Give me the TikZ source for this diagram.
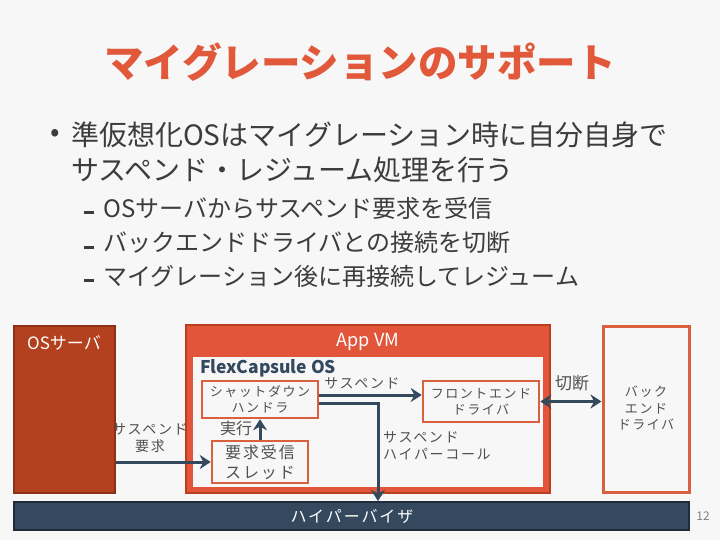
\documentclass[tikz,border=0pt]{standalone}
\usepackage{fontspec}
\setmainfont{Noto Sans CJK JP}
\newfontfamily\jpsp{Noto Sans CJK JP}[LetterSpace=12]
\usetikzlibrary{arrows.meta}
\definecolor{bg}{HTML}{F7F7F7}
\definecolor{ttl}{HTML}{E1583A}
\definecolor{txt}{HTML}{3C3C3C}
\definecolor{navy}{HTML}{34495E}
\definecolor{navyd}{HTML}{1F2D3B}
\definecolor{rust}{HTML}{B3411F}
\definecolor{rustd}{HTML}{8E3016}
\definecolor{vm}{HTML}{E2553A}
\definecolor{vmd}{HTML}{B8401F}
\definecolor{boxb}{HTML}{D9603F}
\definecolor{gtxt}{HTML}{505050}
\tikzset{
  fs/.style={font=\fontsize{#1}{\dimexpr #1pt*5/4\relax}\selectfont},
  inbox/.style={draw=boxb, line width=2.5pt, fill=bg, inner sep=0pt, align=center, text=gtxt},
  arr/.style={draw=navy, line width=3pt, -{Stealth[length=11pt,width=14pt]}},
  darr/.style={draw=navy, line width=3pt, {Stealth[length=11pt,width=14pt]}-{Stealth[length=11pt,width=14pt]}},
  lbl/.style={text=gtxt, inner sep=0pt, align=left},
  dashmark/.style={fill=txt, minimum width=10pt, minimum height=3pt, inner sep=0pt}
}
\begin{document}
\begin{tikzpicture}[x=1pt,y=-1pt]
\fill[bg] (0,0) rectangle (720,540);
\useasboundingbox (0,0) rectangle (720,540);

% title
\node[text=ttl, font=\fontsize{39.5}{46}\selectfont\bfseries] (title) at (360,62) {マイグレーションのサポート};

% bullets
\node[fs=28, text=txt] (b1) at (55,135) {•};
\node[fs=28, text=txt, anchor=west, inner sep=0pt] (t1) at (71,135) {準仮想化OSはマイグレーション時に自分自身で};
\node[fs=28, text=txt, anchor=west, inner sep=0pt] (t2) at (71,170) {サスペンド・レジューム処理を行う};
\node[dashmark] (d1) at (89,213) {};
\node[dashmark] (d2) at (89,247) {};
\node[dashmark] (d3) at (89,280) {};
\node[fs=24, text=txt, anchor=west, inner sep=0pt] (s1) at (103,208) {OSサーバからサスペンド要求を受信};
\node[fs=24, text=txt, anchor=west, inner sep=0pt] (s2) at (103,242) {バックエンドドライバとの接続を切断};
\node[fs=24, text=txt, anchor=west, inner sep=0pt] (s3) at (103,276) {マイグレーション後に再接続してレジューム};

% OS server
\node[draw=rustd, fill=rust, line width=2pt, minimum width=101pt, minimum height=167pt, inner sep=0pt] (os) at (64.5,409.5) {};
\node[fs=17, text=white] (oslbl) at (64,343) {OSサーバ};

% App VM
\node[draw=vmd, fill=vm, line width=2pt, minimum width=364pt, minimum height=168pt, inner sep=0pt] (vm) at (368,409) {};
\node[fill=bg, minimum width=350pt, minimum height=130pt, inner sep=0pt] (vmin) at (368,422) {};
\node[fs=18, text=white] (vmlbl) at (368,342) {App VM};
\node[text=navy, font=\fontsize{17.5}{20}\selectfont\bfseries, anchor=west, inner sep=0pt] (flex) at (200,368) {FlexCapsule OS};

% inner boxes
\node[inbox, minimum width=116pt, minimum height=37pt, fs=13] (shut) at (260,399.5) {\jpsp シャットダウン\\\jpsp ハンドラ};
\node[inbox, minimum width=96pt, minimum height=42pt, fs=16] (req) at (260,462) {\jpsp 要求受信\\\jpsp スレッド};
\node[inbox, minimum width=116pt, minimum height=41pt, fs=13] (front) at (481,401.5) {\jpsp フロントエンド\\\jpsp ドライバ};

% backend
\node[draw=boxb, line width=3pt, fill=bg, minimum width=86pt, minimum height=166pt, inner sep=0pt] (back) at (646,409) {};
\node[fs=13, text=gtxt, align=center] (backlbl) at (646,408) {\jpsp バック\\\jpsp エンド\\\jpsp ドライバ};

% hypervisor
\node[draw=navyd, fill=navy, line width=2pt, minimum width=675pt, minimum height=28pt, inner sep=0pt] (hv) at (351.5,516) {};
\node[fs=16, text=white] (hvlbl) at (352,516) {\jpsp ハイパーバイザ};

% page number
\node[fs=12, text=gray] (pg) at (703,516) {12};

% connectors
\draw[arr] (os.east |- req.west) -- (req.west);
\draw[arr] (req.north) -- (shut.south);
\draw[arr] ([yshift=4.5pt]shut.east) coordinate (sa) -- (sa -| front.west);
\draw[arr] ([yshift=-3.5pt]shut.east) -| ([xshift=26.5pt]hv.north);
\draw[darr] (front.east) -- (front.east -| back.west);

% labels
\node[lbl, fs=14, align=center] (lreq) at (150,438) {\jpsp サスペンド\\\jpsp 要求};
\node[lbl, fs=16] (ljk) at (236,428) {実行};
\node[lbl, fs=14] (lsus) at (362,383) {\jpsp サスペンド};
\node[lbl, fs=14, anchor=west] (lhc) at (383,446) {\jpsp サスペンド\\\jpsp ハイパーコール};
\node[lbl, fs=17] (lcut) at (572,383) {切断};
\end{tikzpicture}
\end{document}
